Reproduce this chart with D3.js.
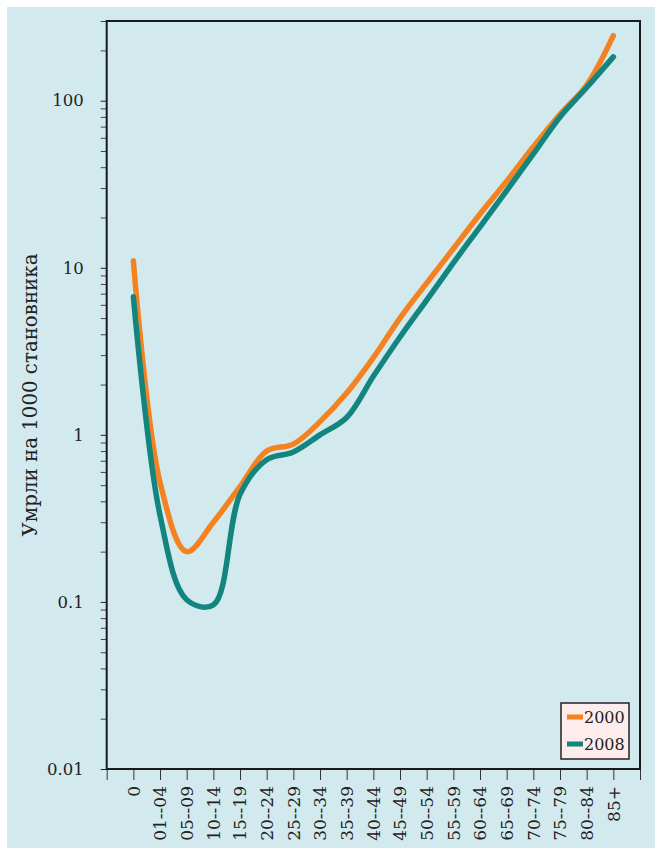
<!DOCTYPE html>
<html>
<head>
<meta charset="utf-8">
<script src="https://cdn.jsdelivr.net/npm/d3@7"></script>
<style>
  body { margin: 0; background: #fff; }
  text { font-family: "DejaVu Serif", serif; fill: #222; }
</style>
</head>
<body>
<div id="content"></div>
<script>
// age groups along the x axis
const ageGroups = ['0', '01--04', '05--09', '10--14', '15--19', '20--24', '25--29',
    '30--34', '35--39', '40--44', '45--49', '50--54', '55--59', '60--64',
    '65--69', '70--74', '75--79', '80--84', '85+'];

// deaths per 1000 inhabitants
const rate2000 = [11, 0.52, 0.2, 0.3, 0.49, 0.8, 0.88, 1.2, 1.78, 2.9, 5.0, 8.1, 13, 21, 33, 53, 83, 124, 245];
const rate2008 = [6.7, 0.33, 0.103, 0.096, 0.44, 0.71, 0.79, 1.0, 1.27, 2.24, 3.85, 6.4, 10.7, 17.6, 29, 48, 80, 120, 183];

const years = ['2000', '2008'];
const colors = ['#f58220', '#12857f'];

const majorTicks = [0.01, 0.1, 1, 10, 100];
const yTitle = 'Умрли на 1000 становника';

const width = 662, height = 855;
const plot = { left: 106.7, top: 21, right: 640, bottom: 769 };

const svg = d3.select('#content').append('svg')
    .attr('width', width)
    .attr('height', height);

// background panel
svg.append('rect')
    .attr('x', 7).attr('y', 7)
    .attr('width', 648).attr('height', 841)
    .attr('fill', '#d2eaee');

const x = d3.scaleLinear()
    .domain([-1, ageGroups.length])
    .range([plot.left, plot.right]);

const y = d3.scaleLog()
    .domain([0.01, 300])
    .range([plot.bottom, plot.top]);

// minor ticks 2..9 for each decade, plus 200/300 at the top
let minorTicks = [];
majorTicks.forEach(m => {
    for (let k = 2; k <= 9; k++) {
        const v = m * k;
        if (v <= 300) minorTicks.push(v);
    }
});

svg.append('g')
    .attr('class', 'y-minor')
    .attr('transform', 'translate(' + plot.left + ',0)')
    .call(d3.axisLeft(y).tickValues(minorTicks).tickSize(6).tickFormat(''))
    .call(g => g.select('.domain').remove())
    .call(g => g.selectAll('line').attr('stroke', '#444'));

svg.append('g')
    .attr('class', 'y-axis')
    .attr('transform', 'translate(' + plot.left + ',0)')
    .call(d3.axisLeft(y).tickValues(majorTicks).tickSize(6).tickPadding(17)
        .tickFormat(d => String(d)))
    .call(g => g.select('.domain').remove())
    .call(g => g.selectAll('line').attr('stroke', '#222'))
    .call(g => g.selectAll('text')
        .style('font-size', '16.5px')
        .style('font-family', '"DejaVu Serif", serif')
        .attr('fill', '#222'));

// x axis: ticks on every slot, labels on the age groups
const xAxis = svg.append('g')
    .attr('class', 'x-axis')
    .attr('transform', 'translate(0,' + plot.bottom + ')')
    .call(d3.axisBottom(x).tickValues(d3.range(-1, ageGroups.length + 1)).tickSize(11)
        .tickFormat(d => ageGroups[d] || ''))
    .call(g => g.select('.domain').remove())
    .call(g => g.selectAll('line').attr('stroke', '#333'));

xAxis.selectAll('text')
    .style('font-size', '17px')
    .style('font-family', '"DejaVu Serif", serif')
    .attr('fill', '#222')
    .attr('text-anchor', 'end')
    .attr('transform', 'rotate(-90)')
    .attr('x', -17)
    .attr('y', 0)
    .attr('dy', '0.35em');

// frame
svg.append('rect')
    .attr('x', plot.left).attr('y', plot.top)
    .attr('width', plot.right - plot.left)
    .attr('height', plot.bottom - plot.top)
    .attr('fill', 'none')
    .attr('stroke', '#1a1a1a')
    .attr('stroke-width', 2);

// y title
svg.append('text')
    .attr('transform', 'translate(37,' + ((plot.top + plot.bottom) / 2) + ') rotate(-90)')
    .attr('text-anchor', 'middle')
    .style('font-size', '19.8px')
    .text(yTitle);

// lines
const line = d3.line()
    .x((d, i) => x(i))
    .y(d => y(d))
    .curve(d3.curveCatmullRom.alpha(0.5));

const series = [rate2000, rate2008];

svg.append('g').selectAll('path.series')
    .data(series)
    .enter().append('path')
    .classed('series', true)
    .attr('d', line)
    .attr('fill', 'none')
    .attr('stroke', (d, i) => colors[i])
    .attr('stroke-width', 5.5)
    .attr('stroke-linecap', 'round')
    .attr('stroke-linejoin', 'round');

// legend
const legend = svg.append('g')
    .attr('transform', 'translate(561,703)');

legend.append('rect')
    .attr('width', 68).attr('height', 56)
    .attr('fill', '#fdeceb')
    .attr('stroke', '#222')
    .attr('stroke-width', 1.5);

const item = legend.selectAll('g.item')
    .data(years)
    .enter().append('g')
    .classed('item', true)
    .attr('transform', (d, i) => 'translate(0,' + (14 + i * 27) + ')');

item.append('rect')
    .attr('x', 6).attr('y', -2.5)
    .attr('width', 16).attr('height', 5)
    .attr('fill', (d, i) => colors[i]);

item.append('text')
    .attr('x', 23)
    .attr('y', 6)
    .style('font-size', '16px')
    .text(d => d);
</script>
</body>
</html>
